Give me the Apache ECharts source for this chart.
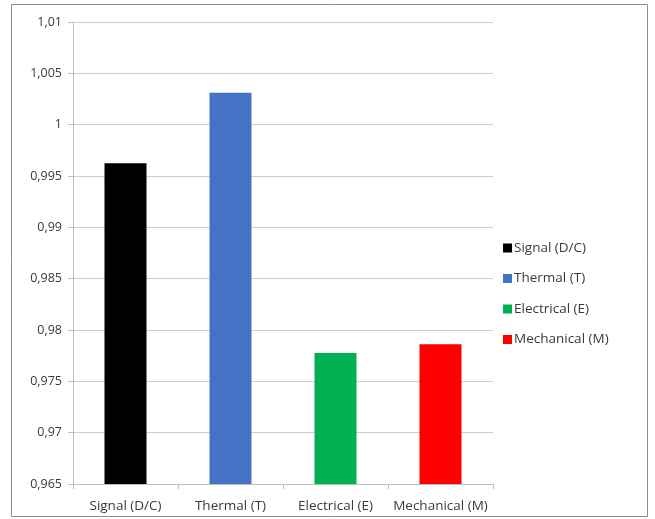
<!DOCTYPE html>
<html>
<head>
<meta charset="utf-8">
<script src="https://cdn.jsdelivr.net/npm/echarts@6/dist/echarts.min.js"></script>
<style>
  html, body { margin: 0; padding: 0; background: #ffffff; }
  #chart { width: 655px; height: 519px; }
</style>
</head>
<body>
<div id="chart"></div>
<script>
// Failure-mode categories and their values
const categories = ['Signal (D/C)', 'Thermal (T)', 'Electrical (E)', 'Mechanical (M)'];
const values = [0.99624, 1.00312, 0.97776, 0.9786];
const colors = ['#000000', '#4472c4', '#00b050', '#ff0000'];

// Value axis range and step
const yMin = 0.965;
const yMax = 1.01;
const yStep = 0.005;

const fontFamily = '"Open Sans", "Liberation Sans", sans-serif';
const textColor = '#3a3a3a';
const lineColor = '#bfbfbf';

// One series per category so each gets its own legend entry;
// stacking keeps each bar centred in its own slot.
const series = categories.map((name, i) => ({
  name: name,
  type: 'bar',
  stack: 'all',
  barWidth: '40%',
  itemStyle: { color: colors[i] },
  data: categories.map((c, j) => (j === i ? values[i] : '-'))
}));

const chart = echarts.init(document.getElementById('chart'), null, { renderer: 'canvas' });
chart.setOption({
  animation: false,
  backgroundColor: '#ffffff',
  textStyle: { fontFamily: fontFamily },
  grid: { left: 73, right: 162, top: 22, bottom: 35, containLabel: false },
  legend: {
    orient: 'vertical',
    left: 498,
    top: 235,
    icon: 'rect',
    itemWidth: 9,
    itemHeight: 9,
    itemGap: 14.5,
    textStyle: { fontFamily: fontFamily, fontSize: 13.5, lineHeight: 16, color: textColor, padding: [0, 0, 0, -3] },
    data: categories
  },
  xAxis: {
    type: 'category',
    data: categories,
    axisLine: { lineStyle: { color: lineColor } },
    axisTick: { show: true, length: 5, lineStyle: { color: lineColor } },
    axisLabel: { interval: 0, fontFamily: fontFamily, fontSize: 13.5, color: textColor, margin: 15 }
  },
  yAxis: {
    type: 'value',
    min: yMin,
    max: yMax,
    interval: yStep,
    axisLine: { show: true, lineStyle: { color: lineColor } },
    axisTick: { show: true, length: 5, lineStyle: { color: lineColor } },
    splitLine: { lineStyle: { color: '#cdcdcd' } },
    axisLabel: {
      fontFamily: fontFamily,
      fontSize: 12.5,
      color: textColor,
      margin: 11,
      formatter: v => String(+v.toFixed(3)).replace('.', ',')
    }
  },
  graphic: [{
    type: 'rect',
    shape: { x: 11.5, y: 4.5, width: 636, height: 512 },
    style: { fill: 'none', stroke: '#8c8c8c', lineWidth: 1 },
    silent: true
  }],
  series: series
});
</script>
</body>
</html>
